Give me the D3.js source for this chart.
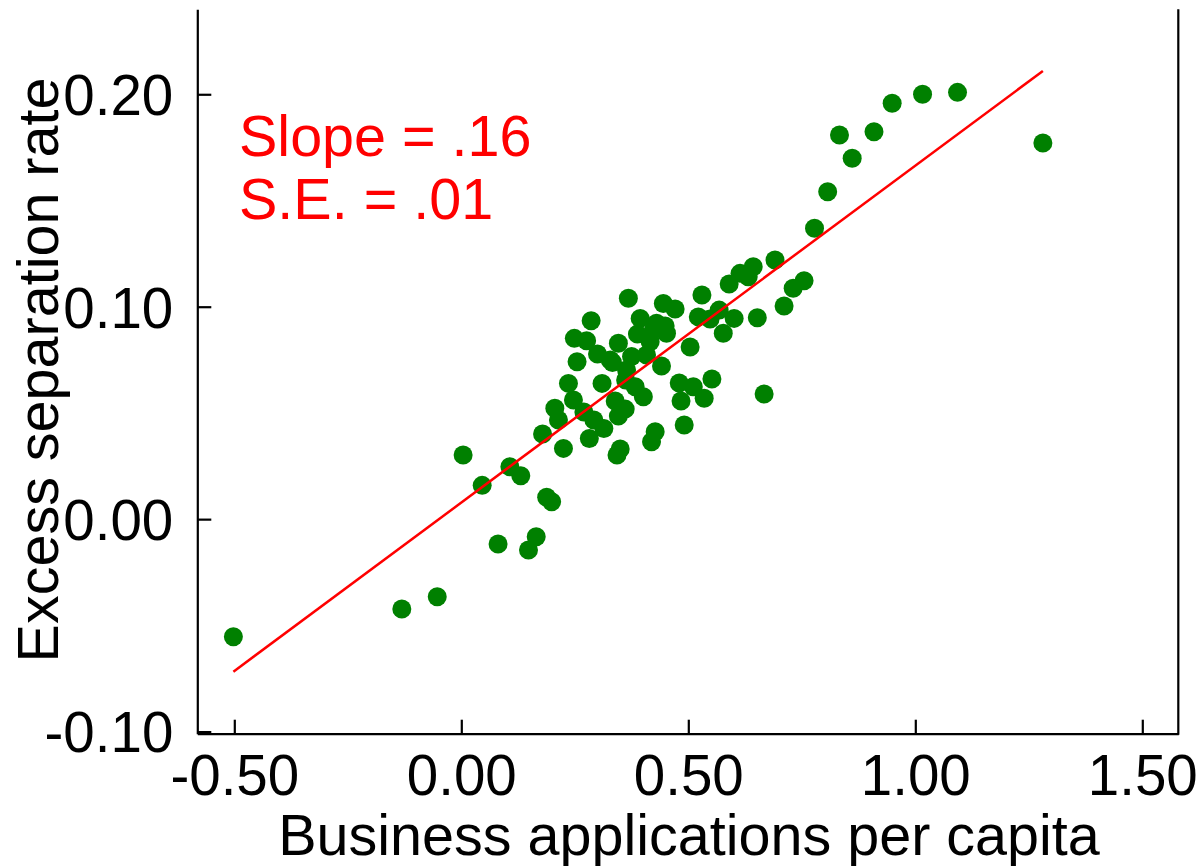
<html>
<head>
<meta charset="utf-8">
<script src="https://cdn.jsdelivr.net/npm/d3@7"></script>
<style>
  body { margin: 0; background: #fff; }
  text { font-family: "Liberation Sans", Arial, sans-serif; }
</style>
</head>
<body>
<script>
// business applications per capita (x) vs excess separation rate (y)
var xVals = [-0.502, -0.131, -0.053, 0.004, 0.046, 0.081, 0.107, 0.131, 0.148, 0.165,
             0.179, 0.188, 0.199, 0.206, 0.214, 0.225, 0.236, 0.247, 0.255, 0.249,
             0.276, 0.286, 0.270, 0.292, 0.282, 0.300, 0.310, 0.314, 0.333, 0.346,
             0.361, 0.350, 0.343, 0.346, 0.328, 0.364, 0.362, 0.383, 0.401, 0.368,
             0.394, 0.388, 0.375, 0.408, 0.416, 0.423, 0.430, 0.449, 0.452, 0.445,
             0.471, 0.441, 0.427, 0.419, 0.504, 0.480, 0.511, 0.552, 0.535, 0.484,
             0.491, 0.530, 0.522, 0.548, 0.568, 0.577, 0.601, 0.590, 0.614, 0.632,
             0.643, 0.691, 0.652, 0.667, 0.711, 0.731, 0.755, 0.778, 0.807, 0.833,
             0.861, 0.909, 0.949, 1.016, 1.093, 1.281, 0.339];
var yVals = [-0.0554, -0.0423, -0.0365, 0.0302, 0.0159, -0.0117, 0.0247, 0.0204, -0.0145, -0.0083,
             0.0401, 0.0103, 0.0082, 0.0522, 0.0467, 0.0333, 0.0639, 0.0561, 0.0741, 0.0851,
             0.0840, 0.0934, 0.0504, 0.0467, 0.0380, 0.0777, 0.0639, 0.0427, 0.0737, 0.0485,
             0.0518, 0.0330, 0.0302, 0.0828, 0.0749, 0.0702, 0.0655, 0.0623, 0.0576, 0.1040,
             0.0945, 0.0871, 0.0766, 0.0773, 0.0835, 0.0890, 0.0922, 0.0909, 0.0875, 0.1015,
             0.0989, 0.0721, 0.0411, 0.0364, 0.0810, 0.0641, 0.0623, 0.0660, 0.0569, 0.0556,
             0.0443, 0.1055, 0.0952, 0.0942, 0.0984, 0.0875, 0.0945, 0.1107, 0.1157, 0.1141,
             0.1188, 0.1220, 0.0948, 0.0589, 0.1003, 0.1087, 0.1122, 0.1369, 0.1541, 0.1808,
             0.1699, 0.1824, 0.1958, 0.2000, 0.2009, 0.1771, 0.0556];

var xTicks = [-0.5, 0, 0.5, 1, 1.5];
var yTicks = [-0.1, 0, 0.1, 0.2];

// fitted line
var fitSlope = 0.1586;
var fitIntercept = 0.0078;
var statLines = ["Slope = .16", "S.E. = .01"];

var width = 1201, height = 866;
var plotLeft = 197.3, plotRight = 1178.3, plotTop = 9.3, plotBottom = 733.7;

var svg = d3.select("body").append("svg")
    .attr("width", width)
    .attr("height", height);

var x = d3.scaleLinear().domain([-0.5815, 1.5793]).range([plotLeft, plotRight]);
var y = d3.scaleLinear().domain([-0.101, 0.240]).range([plotBottom, plotTop]);

var fmt = function(d) { return d.toFixed(2); };

// axes, ticks pointing inward
var gx = svg.append("g")
    .attr("transform", "translate(0," + plotBottom + ")")
    .call(d3.axisBottom(x).tickValues(xTicks).tickFormat(fmt)
        .tickSizeInner(-14).tickSizeOuter(0).tickPadding(21));

var gy = svg.append("g")
    .attr("transform", "translate(" + plotLeft + ",0)")
    .call(d3.axisLeft(y).tickValues(yTicks).tickFormat(fmt)
        .tickSizeInner(-14).tickSizeOuter(0).tickPadding(24));

[gx, gy].forEach(function(g) {
    g.select(".domain").attr("stroke", "#000").style("stroke-width", "2.2px");
    g.selectAll(".tick line").attr("stroke", "#000").style("stroke-width", "2.2px");
    g.selectAll(".tick text")
        .attr("fill", "#000")
        .style("font-size", "56.5px")
        .style("font-family", "'Liberation Sans', Arial, sans-serif");
});
gy.selectAll(".tick text").attr("dy", "0.36em");

// right frame line
svg.append("line")
    .attr("x1", plotRight).attr("x2", plotRight)
    .attr("y1", plotTop).attr("y2", plotBottom + 1)
    .attr("stroke", "#000")
    .attr("stroke-width", 2.2);

// points
svg.append("g").selectAll("circle")
    .data(xVals)
    .enter()
    .append("circle")
    .attr("cx", function(d) { return x(d); })
    .attr("cy", function(d, i) { return y(yVals[i]); })
    .attr("r", 9.5)
    .attr("fill", "#008000");

// regression line over range of x
var x0 = d3.min(xVals), x1 = d3.max(xVals);
svg.append("line")
    .attr("x1", x(x0)).attr("y1", y(fitIntercept + fitSlope * x0))
    .attr("x2", x(x1)).attr("y2", y(fitIntercept + fitSlope * x1))
    .attr("stroke", "#ff0000")
    .attr("stroke-width", 2.5);

// slope / s.e. text
svg.selectAll(".stat")
    .data(statLines)
    .enter()
    .append("text")
    .attr("class", "stat")
    .attr("x", 239)
    .attr("y", function(d, i) { return 156 + i * 63; })
    .attr("fill", "#ff0000")
    .style("font-size", "57.5px")
    .text(function(d) { return d; });

// axis titles
svg.append("text")
    .attr("x", 689)
    .attr("y", 855)
    .attr("text-anchor", "middle")
    .style("font-size", "57.5px")
    .text("Business applications per capita");

svg.append("text")
    .attr("transform", "translate(58,370) rotate(-90)")
    .attr("text-anchor", "middle")
    .style("font-size", "57.5px")
    .text("Excess separation rate");
</script>
</body>
</html>
